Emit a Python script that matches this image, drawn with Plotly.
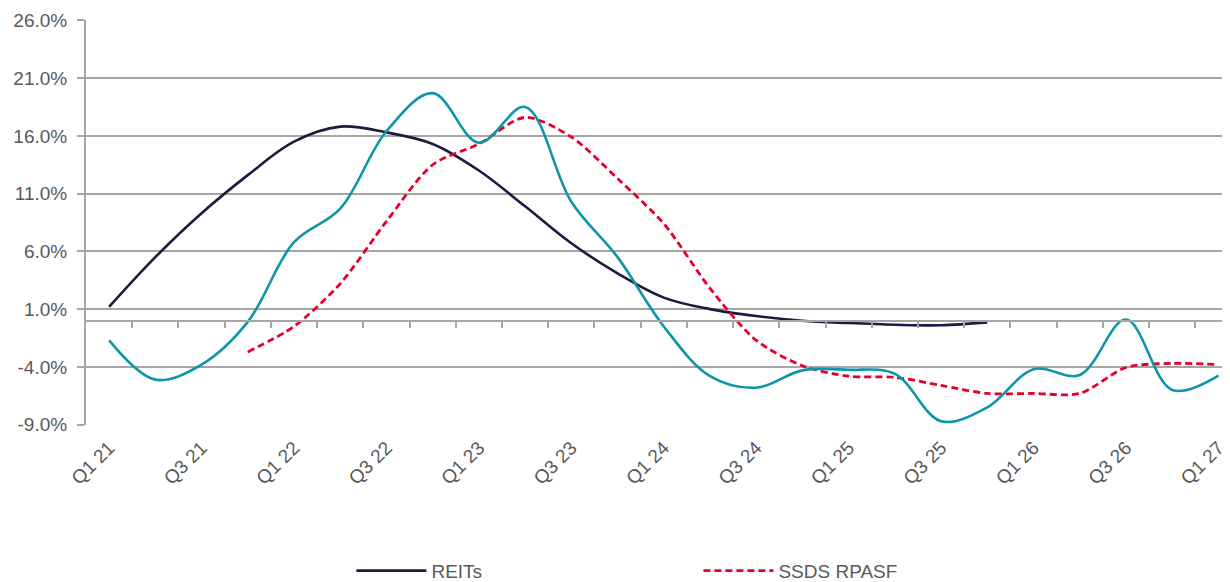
import plotly.graph_objects as go

quarters = ["Q1 21", "Q2 21", "Q3 21", "Q4 21", "Q1 22", "Q2 22", "Q3 22", "Q4 22",
            "Q1 23", "Q2 23", "Q3 23", "Q4 23", "Q1 24", "Q2 24", "Q3 24", "Q4 24",
            "Q1 25", "Q2 25", "Q3 25", "Q4 25", "Q1 26", "Q2 26", "Q3 26", "Q4 26", "Q1 27"]

reits = [1.2, 5.5, 9.3, 12.6, 15.5, 16.8, 16.3, 15.3, 13.0, 9.9, 6.7, 4.1, 2.0, 1.0, 0.4, 0.0,
         -0.2, -0.35, -0.4, -0.15]
ssds_rpasf = [None, None, None, -2.7, -0.5, 3.2, 8.6, 13.5, 15.3, 17.6, 15.9, 12.3, 8.4, 2.8, -1.7,
              -3.9, -4.8, -4.9, -5.6, -6.3, -6.3, -6.3, -4.05, -3.7, -3.8]
third_series = [-1.7, -5.1, -3.8, -0.1, 6.8, 9.7, 16.4, 19.7, 15.4, 18.5, 10.3, 5.5, -0.5, -4.8,
                -5.8, -4.3, -4.25, -4.6, -8.7, -7.5, -4.2, -4.7, 0.1, -6.0, -4.75]

y_ticks = [-9, -4, 1, 6, 11, 16, 21, 26]
label_idx = list(range(0, len(quarters), 2))

idx = list(range(len(quarters)))
FONT = "Liberation Sans, Arial, sans-serif"
GREY_TXT = "#595959"
GRID = "#a6a6a6"
FS = 19

fig = go.Figure()
fig.add_trace(go.Scatter(x=idx[:len(reits)], y=reits, name="REITs", mode="lines",
                         line=dict(color="#1c1a3f", width=2.6, shape="spline", smoothing=1.0)))
fig.add_trace(go.Scatter(x=idx, y=ssds_rpasf, name="SSDS RPASF", mode="lines",
                         line=dict(color="#e4002b", width=2.8, dash="7px,4px", shape="spline", smoothing=0.8)))
fig.add_trace(go.Scatter(x=idx, y=third_series, name="Series 3", mode="lines", showlegend=False,
                         line=dict(color="#0e95a8", width=2.6, shape="spline", smoothing=1.0)))
# invisible trace to carry the zero axis
fig.add_trace(go.Scatter(x=[0], y=[0], xaxis="x2", mode="markers", opacity=0,
                         showlegend=False, hoverinfo="skip"))

xr = [-0.5, 24.25]
fig.update_layout(
    width=1222, height=574,
    margin=dict(l=78, r=0, t=12, b=157, autoexpand=False),
    paper_bgcolor="white", plot_bgcolor="white",
    font=dict(family=FONT, size=FS, color=GREY_TXT),
    xaxis=dict(range=xr, tickmode="array", tickvals=label_idx,
               ticktext=[quarters[i] for i in label_idx], tickangle=-45,
               showgrid=False, zeroline=False, showline=False, ticks="",
               automargin=False,
               ticklabelstandoff=7, tickfont=dict(size=FS, color=GREY_TXT)),
    xaxis2=dict(range=xr, overlaying="x", anchor="free", position=9 / 35,
                tickmode="array", tickvals=[i + 0.5 for i in idx[:-1]],
                showticklabels=False, showgrid=False, zeroline=False, automargin=False,
                showline=True, linecolor=GRID, linewidth=2,
                ticks="outside", ticklen=6, tickwidth=2, tickcolor=GRID),
    yaxis=dict(range=[-9.03, 26.03], tickmode="array", tickvals=y_ticks,
               ticktext=[f"{v:.1f}%" for v in y_ticks],
               showgrid=True, gridcolor=GRID, gridwidth=2, automargin=False,
               zeroline=False, showline=True, linecolor=GRID, linewidth=2,
               ticks="outside", ticklen=7, tickwidth=2, tickcolor=GRID,
               ticklabelstandoff=6, tickfont=dict(size=FS, color=GREY_TXT)),
    legend=dict(orientation="h", xref="paper", yref="paper", x=0.232, y=-0.36,
                xanchor="left", yanchor="middle", entrywidth=262, entrywidthmode="pixels",
                itemwidth=70,
                font=dict(size=FS, color=GREY_TXT), bgcolor="rgba(0,0,0,0)"),
    showlegend=True,
)

fig.write_html("out.html")
